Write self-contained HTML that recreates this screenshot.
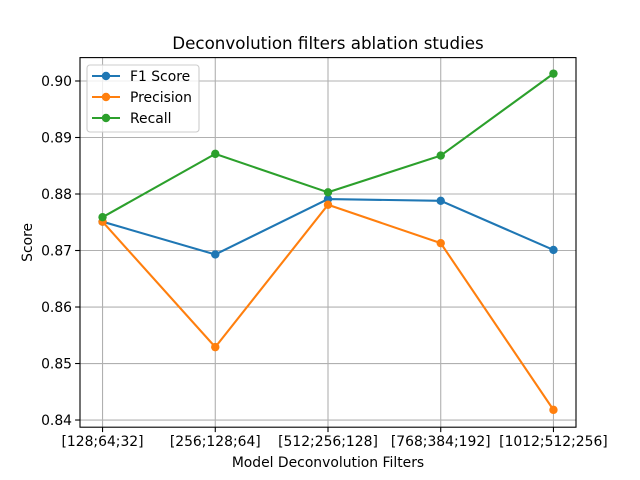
<!DOCTYPE html>
<html><head><meta charset="utf-8"><style>
body{margin:0;background:#fff;}
svg{display:block;font-family:"DejaVu Sans","Liberation Sans",sans-serif;}
</style></head><body>
<svg id="chart" width="640" height="480">
<rect x="0" y="0" width="640" height="480" fill="#fff"/>
</svg>
<script>
const categories=["[128;64;32]","[256;128;64]","[512;256;128]","[768;384;192]","[1012;512;256]"];
const f1Values=[0.8751,0.8693,0.8791,0.8788,0.8701];
const precisionValues=[0.8751,0.8529,0.8781,0.8713,0.8418];
const recallValues=[0.8759,0.8871,0.8803,0.8868,0.9013];
const yTicks=[0.84,0.85,0.86,0.87,0.88,0.89,0.90];
const seriesNames=["F1 Score","Precision","Recall"];
const colors=["#1f77b4","#ff7f0e","#2ca02c"];

const NS="http://www.w3.org/2000/svg";
const svg=document.getElementById('chart');
const L=80,R=576,T=57.6,B=427.2;
const yMin=0.83873,yMax=0.90414;
const xs=i=>L+(i+0.2)/4.4*(R-L);
const ys=v=>B-(v-yMin)/(yMax-yMin)*(B-T);
function mk(tag,attrs,parent){const e=document.createElementNS(NS,tag);for(const k in attrs)e.setAttribute(k,attrs[k]);(parent||svg).appendChild(e);return e;}

yTicks.forEach((t,i)=>{
  const g=mk('line',{x1:L,x2:R,y1:ys(t),y2:ys(t),stroke:'#b0b0b0','stroke-width':1.1});
  
  
  mk('line',{x1:L-4.9,x2:L,y1:ys(t),y2:ys(t),stroke:'#000','stroke-width':1.1});
  const tx=mk('text',{x:L-8,y:ys(t)+5,'text-anchor':'end','font-size':13.9,fill:'#000'});
  tx.textContent=t.toFixed(2);
  
  
});
categories.forEach((c,i)=>{
  const g=mk('line',{x1:xs(i),x2:xs(i),y1:T,y2:B,stroke:'#b0b0b0','stroke-width':1.1});
  
  
  mk('line',{x1:xs(i),x2:xs(i),y1:B,y2:B+4.9,stroke:'#000','stroke-width':1.1});
  const tx=mk('text',{x:xs(i),y:B+19,'text-anchor':'middle','font-size':13.9,fill:'#000'});
  tx.textContent=c;
  
  
});
[f1Values,precisionValues,recallValues].forEach((vals,s)=>{
  const pts=vals.map((v,i)=>xs(i)+','+ys(v)).join(' ');
  const pl=mk('polyline',{points:pts,fill:'none',stroke:colors[s],'stroke-width':2.1});
  
  
  vals.forEach((v,i)=>{
    const c=mk('circle',{cx:xs(i),cy:ys(v),r:4.2,fill:colors[s]});
    
    
  });
});
const fr=mk('rect',{x:L,y:T,width:R-L,height:B-T,fill:'none',stroke:'#000','stroke-width':1.1});


const ti=mk('text',{x:(L+R)/2,y:49,'text-anchor':'middle','font-size':16.7,fill:'#000'});
ti.textContent='Deconvolution filters ablation studies';


const xt=mk('text',{x:(L+R)/2,y:467,'text-anchor':'middle','font-size':13.9,fill:'#000'});
xt.textContent='Model Deconvolution Filters';


const yt=mk('text',{x:0,y:0,'text-anchor':'middle','font-size':13.9,fill:'#000',transform:'translate(32,'+((T+B)/2)+') rotate(-90)'});
yt.textContent='Score';


const lg=mk('rect',{x:87,y:65,width:112,height:67,rx:3,fill:'#fff','fill-opacity':0.8,stroke:'#ccc','stroke-width':1.1});


seriesNames.forEach((n,s)=>{
  const y=76+s*21;
  mk('line',{x1:92,x2:120,y1:y,y2:y,stroke:colors[s],'stroke-width':2.1});
  mk('circle',{cx:106,cy:y,r:4.2,fill:colors[s]});
  const t=mk('text',{x:130,y:y+5,'font-size':13.9,fill:'#000'});
  t.textContent=n;
  
  
});
</script>
</body></html>
